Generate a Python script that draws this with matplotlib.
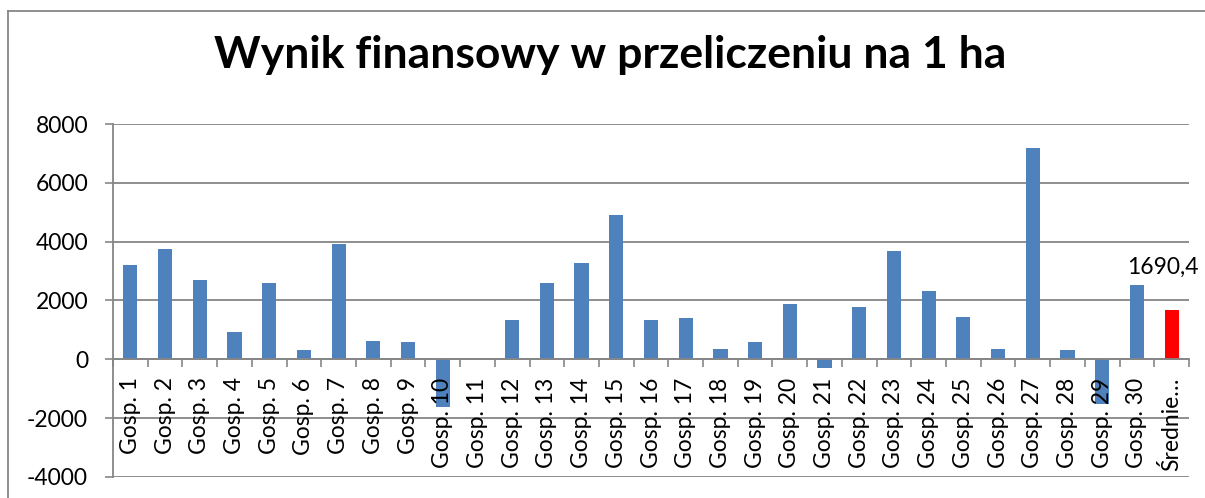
import matplotlib.pyplot as plt
from matplotlib.lines import Line2D

plt.rcParams['font.family'] = ['Lato', 'DejaVu Sans']
plt.rcParams['axes.unicode_minus'] = False

# Dane
labels = ['Gosp. %d' % i for i in range(1, 31)] + ['Średnie…']
values = [3190, 3740, 2690, 940, 2580, 310, 3930, 620, 600, -1610,
          0, 1320, 2580, 3260, 4910, 1320, 1390, 340, 590, 1890,
          -280, 1780, 3670, 2320, 1440, 340, 7190, 310, -1510, 2540,
          1690.4]
avg_label = '1690,4'
yticks = [-4000, -2000, 0, 2000, 4000, 6000, 8000]

blue = '#4F81BD'
red = '#FF0000'
gray = '#868686'

fig = plt.figure(figsize=(12.05, 4.98), dpi=100)
ax = fig.add_axes([0.0938, 0.0422, 0.8929, 0.7088])

x = list(range(len(values)))
colors = [blue] * (len(values) - 1) + [red]
ax.bar(x, values, width=0.41, color=colors, zorder=1)

# Linie siatki pod słupkami
for y in yticks:
    ax.axhline(y, color=gray, lw=1.3, zorder=0.5)

ax.set_ylim(-4000, 8000)
ax.set_xlim(-0.5, len(values) - 0.5)
ax.set_yticks(yticks)
ax.tick_params(axis='y', labelsize=16.5, length=6, width=1.2, color=gray, pad=12)

# Oś X na wysokości zera
ax.spines['bottom'].set_position(('data', 0))
ax.spines['bottom'].set_color(gray)
ax.spines['bottom'].set_linewidth(1.3)
ax.spines['left'].set_color(gray)
ax.spines['left'].set_linewidth(1.3)
ax.spines['top'].set_visible(False)
ax.spines['right'].set_visible(False)

ax.set_xticks(x)
ax.set_xticklabels(labels, rotation=90, va='top', ha='center', fontsize=16.5)
ax.set_xticks([i - 0.5 for i in range(len(values) + 1)], minor=True)
ax.tick_params(axis='x', which='major', length=0, pad=13)
ax.tick_params(axis='x', which='minor', length=6, width=1.2, color=gray)

ax.annotate(avg_label, (x[-1], values[-1]), xytext=(-6, 23),
            textcoords='offset points', ha='center', va='bottom', fontsize=16.5)

fig.suptitle('Wynik finansowy w przeliczeniu na 1 ha', x=0.506, y=0.93,
             fontsize=32, fontweight='bold')

# Ramka wykresu
fig.add_artist(Line2D([0.0066, 0.0066], [0, 0.978], color=gray, lw=1.3,
                      transform=fig.transFigure))
fig.add_artist(Line2D([0.0066, 1], [0.978, 0.978], color=gray, lw=1.3,
                      transform=fig.transFigure))

fig.savefig('out.png', dpi=100)
